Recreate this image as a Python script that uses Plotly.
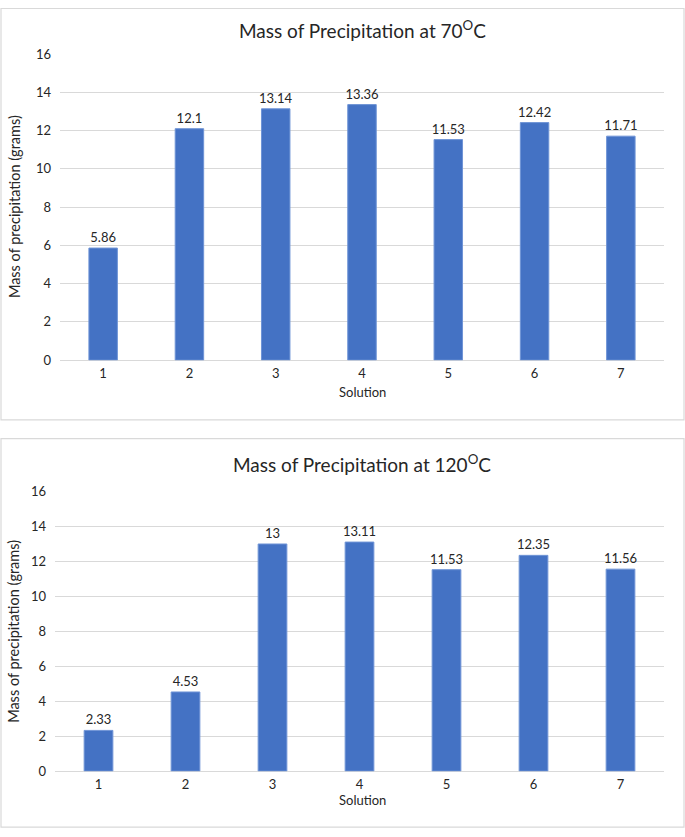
import plotly.graph_objects as go
from plotly.subplots import make_subplots

# datos
soluciones = ["1", "2", "3", "4", "5", "6", "7"]
masa_70 = [5.86, 12.1, 13.14, 13.36, 11.53, 12.42, 11.71]
masa_120 = [2.33, 4.53, 13, 13.11, 11.53, 12.35, 11.56]
etiquetas_70 = ["5.86", "12.1", "13.14", "13.36", "11.53", "12.42", "11.71"]
etiquetas_120 = ["2.33", "4.53", "13", "13.11", "11.53", "12.35", "11.56"]

W, H = 685, 837
azul = "#4472C4"
gris_grid = "#d9d9d9"
fuente = "Lato, 'Open Sans', sans-serif"

def py(px):
    # pixel vertical -> coordenada paper
    return 1 - px / H

def px_(x):
    return x / W

fig = make_subplots(rows=2, cols=1)

for fila, valores, etiquetas in [(1, masa_70, etiquetas_70), (2, masa_120, etiquetas_120)]:
    fig.add_trace(go.Bar(
        x=soluciones, y=valores, text=etiquetas,
        textposition="outside", cliponaxis=False, constraintext="none",
        textfont=dict(size=13, color="#262626", family=fuente),
        marker=dict(color=azul, line=dict(color="#6f94d6", width=1)),
        showlegend=False, hoverinfo="skip",
    ), row=fila, col=1)

ejes_y = dict(
    range=[0, 16], dtick=2, showgrid=True, gridcolor=gris_grid, gridwidth=1,
    zeroline=True, zerolinecolor=gris_grid, zerolinewidth=1,
    tickfont=dict(size=13, color="#262626", family=fuente),
    ticks="", showline=False, ticklabelstandoff=8,
)
ejes_x = dict(
    showgrid=False, ticks="", showline=False,
    tickfont=dict(size=13, color="#262626", family=fuente),
    ticklabelstandoff=4,
)

fig.update_layout(
    width=W, height=H,
    margin=dict(l=0, r=0, t=0, b=0),
    paper_bgcolor="white", plot_bgcolor="white",
    bargap=0.67,
    font=dict(family=fuente),
    xaxis=dict(domain=[px_(60), px_(664)], **ejes_x),
    yaxis=dict(domain=[py(359), py(47)], **ejes_y),
    xaxis2=dict(domain=[px_(55), px_(664)], **ejes_x),
    yaxis2=dict(domain=[py(778), py(493)], **ejes_y),
)

# marcos de cada grafico
fig.add_shape(type="rect", xref="paper", yref="paper",
              x0=px_(1), x1=px_(684), y0=py(420), y1=py(0.5),
              line=dict(color=gris_grid, width=1.2))
fig.add_shape(type="rect", xref="paper", yref="paper",
              x0=px_(1), x1=px_(684), y0=py(835), y1=py(439),
              line=dict(color=gris_grid, width=1.2))

titulos = [
    ("Mass of Precipitation at 70<sup>O</sup>C", 22),
    ("Mass of Precipitation at 120<sup>O</sup>C", 464),
]
for texto, yy in titulos:
    fig.add_annotation(text=texto, xref="paper", yref="paper",
                       x=px_(362), y=py(yy), showarrow=False,
                       xanchor="center", yanchor="middle",
                       font=dict(size=19, color="#262626", family=fuente))

for yy in [391, 807]:
    fig.add_annotation(text="Solution", xref="paper", yref="paper",
                       x=px_(362), y=py(yy), showarrow=False,
                       xanchor="center", yanchor="middle",
                       font=dict(size=13, color="#262626", family=fuente))

for yy in [203, 636]:
    fig.add_annotation(text="Mass of precipitation (grams)", xref="paper", yref="paper",
                       x=px_(14), y=py(yy), showarrow=False, textangle=-90,
                       xanchor="center", yanchor="middle",
                       font=dict(size=14.5, color="#262626", family=fuente))

fig.write_html("out.html", config={"displayModeBar": False},
               post_script="document.body.style.margin='0';")
